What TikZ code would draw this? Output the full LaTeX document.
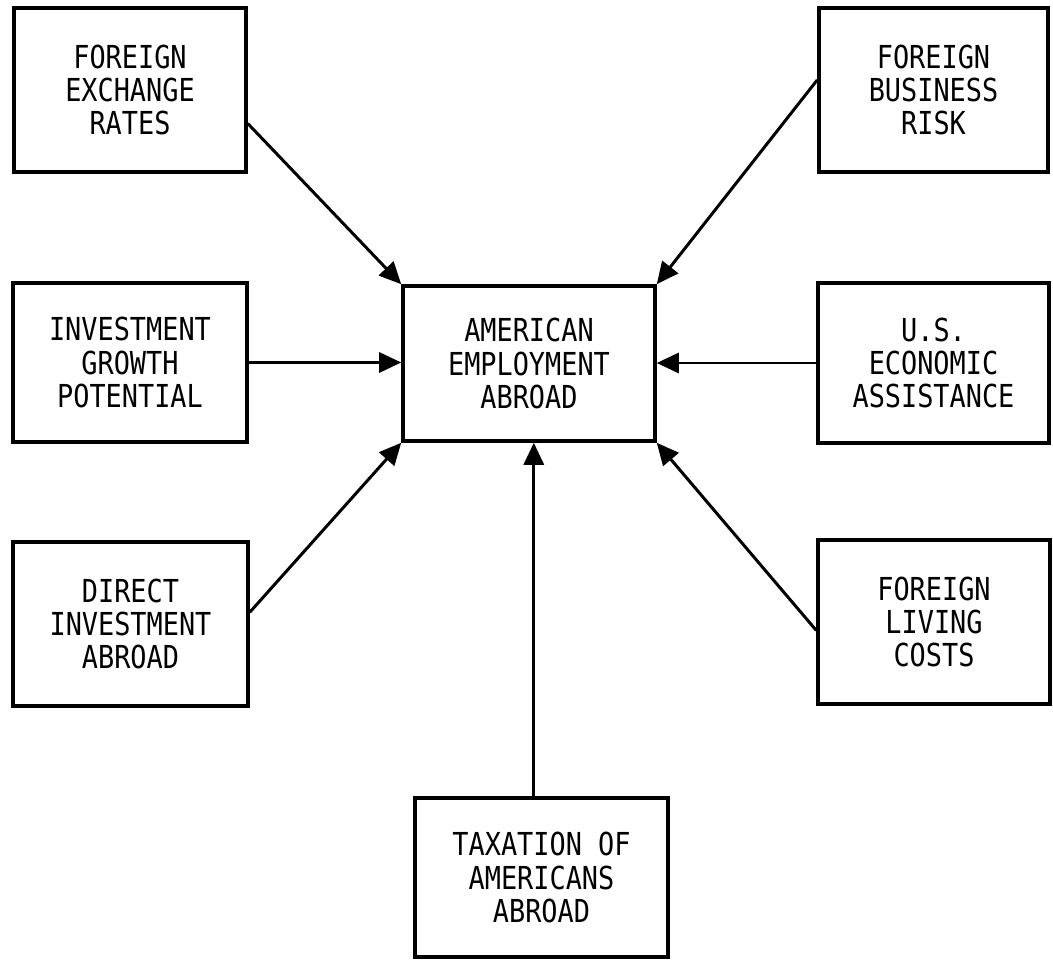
\documentclass[tikz,border=0pt]{standalone}
\usepackage{fontspec}
\setmonofont[FakeStretch=0.85]{DejaVu Sans Mono}
\usetikzlibrary{arrows.meta,calc}

\tikzset{
  factor/.style={draw, line width=2pt, align=center, inner sep=0pt,
    minimum width=4.64cm, minimum height=3.28cm,
    font=\ttfamily\fontsize{18}{18.8}\selectfont},
  link/.style={line width=1.7pt, -{Triangle[length=0.44cm,width=0.4cm]}}
}

\begin{document}
\begin{tikzpicture}
\useasboundingbox (0,0) rectangle (21.06,-19.2);

% left column
\node[factor] (fer) at (2.60,-1.80) {FOREIGN\\EXCHANGE\\RATES};
\node[factor, minimum width=4.68cm, minimum height=3.18cm] (igp) at (2.60,-7.25) {INVESTMENT\\GROWTH\\POTENTIAL};
\node[factor, minimum width=4.70cm] (dia) at (2.61,-12.48) {DIRECT\\INVESTMENT\\ABROAD};

% centre
\node[factor, minimum width=5.04cm, minimum height=3.10cm] (aea) at (10.58,-7.27) {AMERICAN\\EMPLOYMENT\\ABROAD};
\node[factor, minimum width=5.06cm, minimum height=3.18cm] (tax) at (10.83,-17.55) {TAXATION OF\\AMERICANS\\ABROAD};

% right column
\node[factor, minimum width=4.58cm] (fbr) at (18.67,-1.80) {FOREIGN\\BUSINESS\\RISK};
\node[factor, minimum width=4.62cm, minimum height=3.20cm] (usea) at (18.67,-7.26) {U.S.\\ECONOMIC\\ASSISTANCE};
\node[factor] (flc) at (18.68,-12.44) {FOREIGN\\LIVING\\COSTS};

% where the lines leave the boxes
\coordinate (ferout) at ($(fer.north east)!0.7!(fer.south east)$);
\coordinate (fbrout) at ($(fbr.north west)!0.44!(fbr.south west)$);
\coordinate (diaout) at ($(dia.north east)!0.43!(dia.south east)$);
\coordinate (flcout) at ($(flc.north west)!0.55!(flc.south west)$);
\coordinate (taxout) at ($(tax.north west)!0.47!(tax.north east)$);

\draw[link] (ferout) -- (aea.north west);
\draw[link] (fbrout) -- (aea.north east);
\draw[link] (igp.east) -- (igp.east -| aea.west);
\draw[link] (usea.west) -- (usea.west -| aea.east);
\draw[link] (diaout) -- (aea.south west);
\draw[link] (flcout) -- (aea.south east);
\draw[link] (taxout) -- (taxout |- aea.south);
\end{tikzpicture}
\end{document}
